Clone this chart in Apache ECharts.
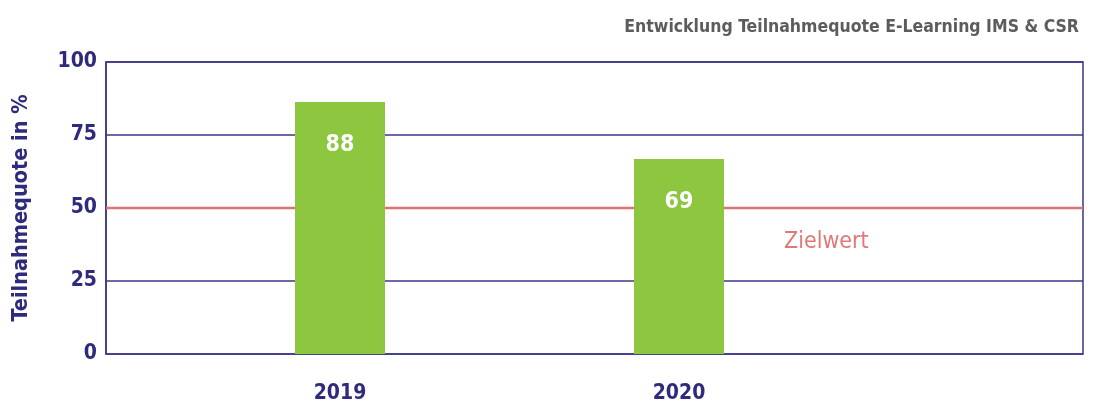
<!DOCTYPE html>
<html><head><meta charset="utf-8">
<script src="https://cdn.jsdelivr.net/npm/echarts@6/dist/echarts.min.js"></script>
<style>html,body{margin:0;padding:0;background:#fff}#c{width:1102px;height:406px}</style>
</head><body><div id="c"></div>
<script>
const categories = ['2019', '2020'];
const values = [86.3, 66.8];
const valueLabels = ['88', '69'];
const targetValue = 50;
const targetLabel = 'Zielwert';
const yTicks = [0, 25, 50, 75, 100];
const title = 'Entwicklung Teilnahmequote E-Learning IMS & CSR';
const yName = 'Teilnahmequote in %';

const FONT = "'Liberation Sans Narrow', 'DejaVu Sans Condensed', sans-serif";
const NAVY = '#2e2a7c';
const LINE = '#3b3687';
const chart = echarts.init(document.getElementById('c'), null, {renderer: 'canvas'});
chart.setOption({
  animation: false,
  title: {text: title, right: 18, top: 13, textStyle: {fontFamily: FONT, fontSize: 17.5, fontWeight: 'bold', color: '#5c5c5c'}},
  grid: [
    {left: 170.5, right: 253.5, top: 62, bottom: 52},
    {left: 106, right: 19, top: 62, bottom: 52, show: true, borderColor: LINE, borderWidth: 1.5, backgroundColor: 'transparent'}
  ],
  xAxis: [
    {type: 'category', gridIndex: 0, data: categories, axisLine: {show: false}, axisTick: {show: false},
     axisLabel: {margin: 29, fontFamily: FONT, fontSize: 21, fontWeight: 'bold', color: NAVY}},
    {type: 'value', gridIndex: 1, min: 0, max: 1, show: false}
  ],
  yAxis: [
    {type: 'value', gridIndex: 0, min: 0, max: 100, show: false},
    {type: 'value', gridIndex: 1, min: yTicks[0], max: yTicks[yTicks.length - 1], interval: 25,
     axisLine: {show: true, lineStyle: {color: LINE, width: 1.5}}, axisTick: {show: false},
     splitLine: {show: true, lineStyle: {color: LINE, width: 1.5}},
     axisLabel: {margin: 9, fontFamily: FONT, fontSize: 21, fontWeight: 'bold', color: NAVY},
     name: yName, nameLocation: 'middle', nameRotate: 90, nameGap: 74,
     nameTextStyle: {fontFamily: FONT, fontSize: 21.5, fontWeight: 'bold', color: NAVY}}
  ],
  series: [
    {type: 'line', xAxisIndex: 1, yAxisIndex: 1, data: [[0, targetValue], [1, targetValue]],
     symbol: 'none', lineStyle: {color: '#e07272', width: 2.5}, z: 3},
    {type: 'bar', xAxisIndex: 0, yAxisIndex: 0, data: values, barWidth: 90, z: 4,
     itemStyle: {color: '#8dc63f'},
     label: {show: true, position: 'insideTop', distance: 32, formatter: p => valueLabels[p.dataIndex],
       fontFamily: FONT, fontSize: 23, fontWeight: 'bold', color: '#fff'}}
  ],
  graphic: [
    {type: 'text', left: 784, top: 231, style: {text: targetLabel, font: "23px " + FONT, fill: '#e07878'}}
  ]
});
</script></body></html>
